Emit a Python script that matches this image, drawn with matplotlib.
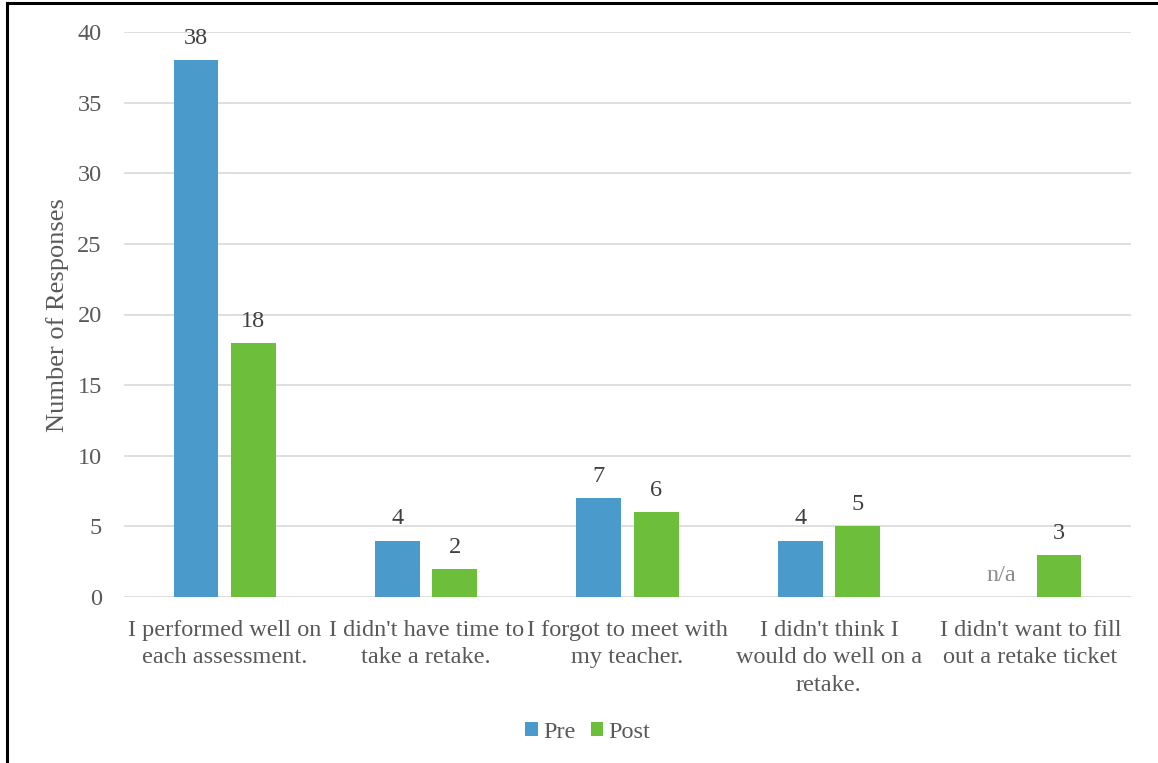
import matplotlib.pyplot as plt
from matplotlib.lines import Line2D
import numpy as np

plt.rcParams['font.family'] = ['Liberation Serif', 'DejaVu Serif']

categories = ["I performed well on\neach assessment.",
              "I didn't have time to\ntake a retake.",
              "I forgot to meet with\nmy teacher.",
              "I didn't think I\nwould do well on a\nretake.",
              "I didn't want to fill\nout a retake ticket"]
pre = [38, 4, 7, 4, np.nan]
post = [18, 2, 6, 5, 3]
yticks = [0, 5, 10, 15, 20, 25, 30, 35, 40]

blue = '#4A9BCB'
green = '#6DBE3B'
fs = 17.5

fig = plt.figure(figsize=(11.58, 7.63), dpi=100)
ax = fig.add_axes([124/1158, 1-597/763, (1131-124)/1158, (597-32)/763])

x = np.arange(len(categories))
w = 0.223
off = 0.1425
b1 = ax.bar(x - off, pre, w, color=blue, label='Pre', zorder=3)
b2 = ax.bar(x + off, post, w, color=green, label='Post', zorder=3)

# value labels
for xi, v in zip(x - off, pre):
    if np.isnan(v):
        ax.annotate('n/a', (xi, 0), xytext=(0, 8), textcoords='offset points',
                    ha='center', va='bottom', fontsize=fs, color='#8C8C8C', zorder=4,
                    bbox=dict(facecolor='white', edgecolor='none', pad=1))
    else:
        ax.annotate(f'{v:g}', (xi, v), xytext=(0, 8), textcoords='offset points',
                    ha='center', va='bottom', fontsize=fs, color='#404040', zorder=4)
for xi, v in zip(x + off, post):
    ax.annotate(f'{v:g}', (xi, v), xytext=(0, 8), textcoords='offset points',
                ha='center', va='bottom', fontsize=fs, color='#404040', zorder=4)

ax.set_xlim(-0.5, len(categories) - 0.5)
ax.set_ylim(0, 40)
ax.set_yticks(yticks)
ax.set_xticks(x)
ax.set_xticklabels(categories, linespacing=1.4)
ax.tick_params(axis='both', length=0, labelsize=fs, colors='#595959')
ax.tick_params(axis='y', pad=16)
ax.tick_params(axis='x', pad=16.5)
ax.grid(axis='y', color='#D9D9D9', linewidth=1.2, zorder=0)
for s in ax.spines.values():
    s.set_visible(False)

fig.text(58/1158, 1-315/763, 'Number of Responses', rotation=90,
         ha='center', va='center', fontsize=19, color='#595959')

fig.legend(handles=[b1, b2], labels=['Pre', 'Post'], loc='center',
           bbox_to_anchor=(588/1158, 1-732/763), ncol=2, frameon=False,
           fontsize=fs, handlelength=0.5, handleheight=0.5, handletextpad=0.25,
           columnspacing=0.6, labelcolor='#595959')

# outer frame (top and left edges visible)
fig.add_artist(Line2D([7/1158, 1], [1-3/763, 1-3/763], color='black', linewidth=2.2))
fig.add_artist(Line2D([7/1158, 7/1158], [0, 1-3/763], color='black', linewidth=2.2))

fig.savefig('out.png', dpi=100)
